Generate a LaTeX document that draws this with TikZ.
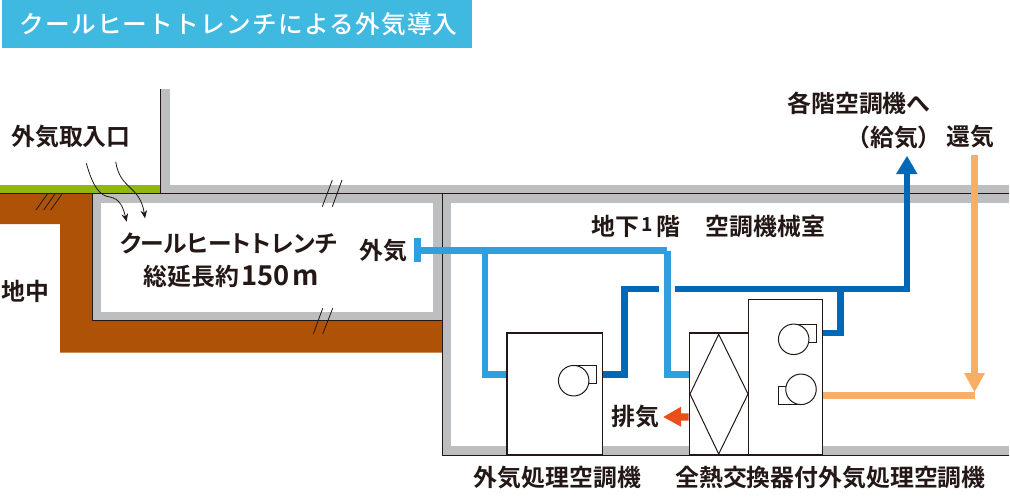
\documentclass[tikz,border=0pt]{standalone}
\usepackage{fontspec}
\setmainfont{Noto Sans CJK JP}
\newfontfamily\jpb{Noto Sans CJK JP Bold}
\newfontfamily\jpp[RawFeature=+palt]{Noto Sans CJK JP Bold}
\newfontfamily\jpl[LetterSpace=5]{Noto Sans CJK JP Medium}
\usetikzlibrary{arrows.meta}
\definecolor{ink}{HTML}{231815}
\definecolor{soil}{HTML}{AE5208}
\definecolor{grass}{HTML}{8FB80A}
\definecolor{wall}{HTML}{BCBEC0}
\definecolor{lightpipe}{HTML}{2E9FDF}
\definecolor{darkpipe}{HTML}{0068B7}
\definecolor{orangepipe}{HTML}{F9AE64}
\definecolor{exhaust}{HTML}{E94E1B}
\definecolor{banner}{HTML}{40B9E0}
\tikzset{
  lab/.style={inner sep=0pt,text=ink,font=\jpb\fontsize{17.9}{20}\selectfont},
  kana/.style={inner sep=0pt,text=ink,font=\jpp\fontsize{17.8}{20}\selectfont},
  unitbox/.style={draw=ink,line width=.9pt,fill=white,inner sep=0pt,rectangle},
  thin line/.style={draw=ink,line width=.75pt},
  fanbody/.style={draw=ink,line width=.75pt,fill=white,circle,inner sep=0pt,minimum size=30.5*.75pt},
  fanbox/.style={draw=ink,line width=.75pt,fill=white},
  slash/.style={draw=ink,line width=.6pt},
  pipe/.style={line width=4.9pt,line cap=butt,line join=miter},
  lightp/.style={pipe,draw=lightpipe},
  darkp/.style={pipe,draw=darkpipe},
  orangep/.style={pipe,draw=orangepipe},
  flowcurve/.style={draw=ink,line width=.6pt,-{Stealth[length=6pt,width=5pt]}},
}
\begin{document}
\begin{tikzpicture}[x=.75pt,y=-.75pt]
\useasboundingbox (0,0) rectangle (1010,497);
% banner
\fill[banner] (2,0) rectangle (472,48);
\node[inner sep=0pt,text=white,font=\jpl\fontsize{18.5}{20}\selectfont] (title) at (238.5,24) {クールヒートトレンチによる外気導入};
% ground
\fill[grass] (0,185) rectangle (160,193.5);
\fill[soil] (0,193.5) -- (92,193.5) -- (92,320) -- (442,320) -- (442,352.6) -- (60,352.6) -- (60,224) -- (0,224) -- cycle;
% walls
\fill[wall] (160,89) rectangle (170,185);
\fill[wall] (160,185) rectangle (1009,193.5);
\fill[wall] (92,193.5) rectangle (1009,202.5);
\fill[wall] (92,193.5) rectangle (101,320);
\fill[wall] (92,311.7) rectangle (442,320);
\fill[wall] (433,193.5) rectangle (442,320);
\fill[wall] (442,193.5) rectangle (451,455);
\fill[wall] (442,446) rectangle (1009,455);
% wall lines
\draw[thin line] (160.5,89) -- (160.5,193.5);
\draw[thin line] (0,193.5) -- (1009,193.5);
\draw[thin line] (92.5,193.5) -- (92.5,320) -- (442,320);
\draw[thin line] (442,193.5) -- (442,455) -- (1009,455);
% break marks
\draw[slash] (36,210) -- (47.7,193.5) (43.7,210) -- (55.3,193.5) (50.7,210) -- (62.3,193.5);
\draw[slash] (322.3,206.7) -- (332.3,180) (332.3,206.7) -- (342,180);
\draw[slash] (313.3,334) -- (322.7,308.3) (322.7,334) -- (332.7,308.3);
% coordinates
\coordinate (intakeL) at (418,250.5);
\coordinate (lj1) at (485,250.5);
\coordinate (lj2) at (667.3,250.5);
\coordinate (supS) at (675,289);
\coordinate (supC) at (907,289);
\coordinate (supT) at (907,174);
\coordinate (retT) at (974.5,155);
\coordinate (retB) at (974.5,374);
\coordinate (retC) at (975,395.7);
% units
\node[unitbox,minimum width=95.3*.75pt,minimum height=122*.75pt] (ahu) at (554.7,394) {};
\node[unitbox,minimum width=59*.75pt,minimum height=122*.75pt] (hx) at (718.8,394) {};
\node[unitbox,minimum width=74*.75pt,minimum height=155.7*.75pt] (erv) at (785.3,377.2) {};
% diamond
\draw[thin line] (718.7,334.3) -- (748,394) -- (718.7,454) -- (690,394) -- cycle;
% fans
\draw[fanbox] (573.7,365.3) rectangle (596.3,383.3);
\node[fanbody] (fan1) at (573.7,380.7) {};
\draw[fanbox] (793.7,324.3) rectangle (816.3,342.3);
\node[fanbody] (fan2) at (793.7,339.3) {};
\draw[fanbox] (778.3,386.7) rectangle (801,404.3);
\node[fanbody] (fan3) at (801,389.3) {};
% pipes
\draw[lightp] (intakeL) -- (lj2);
\draw[lightp] (lj1) -- (485,374.5) -- (ahu.west |- 485,374.5);
\draw[lightp] (lj2) -- (667.3,374.5) -- (hx.west |- 667.3,374.5);
\fill[lightpipe] (414,238) rectangle (421,262);
\draw[darkp] (ahu.east |- 602,374.5) -- (624.5,374.5) -- (624.5,289) -- (659,289);
\draw[darkp] (supS) -- (supC) -- (supT);
\draw[darkp] (840.5,289) -- (840.5,333) -- (erv.east |- 840.5,333);
\fill[darkpipe] (896,174) -- (907,156) -- (917.5,174) -- cycle;
\draw[orangep] (erv.east |- 822.8,395.7) -- (retC);
\draw[orangep] (retT) -- (retB);
\fill[orangepipe] (964,373) -- (985,373) -- (974.5,392) -- cycle;
\fill[exhaust] (hx.west |- 689.3,413.3) -- (681,413.3) -- (681,406.7) -- (663.3,417) -- (681,426.7) -- (681,420.7) -- (hx.west |- 689.3,420.7) -- cycle;
% intake curves
\coordinate (c1s) at (86.3,163.3);
\coordinate (c1e) at (126.7,221.7);
\coordinate (c2s) at (115.7,161.7);
\coordinate (c2e) at (145,218.3);
\draw[flowcurve] (c1s) .. controls (93,187) and (100,196) .. (110,197) .. controls (120,199) and (123,207) .. (c1e);
\draw[flowcurve] (c2s) .. controls (120,190) and (140,185) .. (c2e);
% labels
\node[lab] (l1) at (71,137) {外気取入口};
\node[kana] (l2) at (228.5,243) {クールヒートトレンチ};
\node[lab] (l3) at (231,276) {総延長約\hspace{2pt}{\fontsize{20.5}{20}\selectfont 150}\hspace{1.5pt}{\fontsize{20.5}{20}\selectfont m}};
\node[lab] (l4) at (383.5,250.5) {外気};
\node[lab] (l5) at (25.5,291) {地中};
\node[lab] (l6) at (636,226) {地下\raisebox{3pt}{\hspace{1.5pt}\fontsize{14.5}{14}\selectfont 1\hspace{2.5pt}}階};
\node[lab] (l7) at (765.5,226) {空調機械室};
\node[lab] (l8) at (859,103) {各階空調機へ};
\node[lab] (l9) at (894,137) {（給気）};
\node[lab] (l10) at (970,137) {還気};
\node[lab] (l11) at (635.5,417) {排気};
\node[lab] (l12) at (557.5,478) {外気処理空調機};
\node[lab] (l13) at (830.5,478) {全熱交換器付外気処理空調機};
\end{tikzpicture}
\end{document}
